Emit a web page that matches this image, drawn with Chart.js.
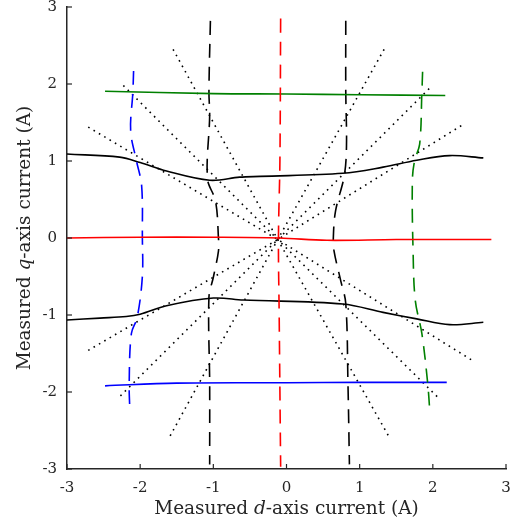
<!DOCTYPE html>
<html>
<head>
<meta charset="utf-8">
<script src="https://cdn.jsdelivr.net/npm/chart.js@4"></script>
<style>body{margin:0;background:#fff}</style>
</head>
<body>
<canvas id="graph" width="514" height="529"></canvas>
<script>
// ticks shown on both axes
const tickValues = [-3, -2, -1, 0, 1, 2, 3];

// solid curves
const redSolidX = [-3, -2, -1, -0.1, 0.55, 1.5, 2.8];
const redSolidY = [0.0, 0.01, 0.01, 0.0, -0.03, -0.02, -0.02];
const greenSolidX = [-2.48, -1, 0, 1, 2.17];
const greenSolidY = [1.905, 1.875, 1.87, 1.86, 1.85];
const blueSolidX = [-2.48, -1.5, 0, 1, 2.19];
const blueSolidY = [-1.92, -1.885, -1.88, -1.875, -1.875];
const blackUpperX = [-3, -2.28, -2.0, -1.64, -1.05, -0.64, -0.36, 0.77, 1.32, 1.78, 2.23, 2.69];
const blackUpperY = [1.09, 1.05, 0.98, 0.87, 0.75, 0.79, 0.80, 0.84, 0.92, 1.01, 1.07, 1.04];
const blackLowerX = [-3, -2.55, -2.19, -2.0, -1.64, -1.0, -0.59, 0.77, 1.32, 1.78, 2.23, 2.69];
const blackLowerY = [-1.065, -1.04, -1.02, -0.99, -0.88, -0.78, -0.805, -0.857, -0.966, -1.05, -1.125, -1.095];

// dashed curves
const redDashX = [-0.08, -0.09, -0.11, -0.10, -0.08];
const redDashY = [2.85, 1.0, 0.0, -1.0, -2.97];
const greenDashX = [1.86, 1.85, 1.82, 1.75, 1.72, 1.73, 1.76, 1.85, 1.93, 1.96];
const greenDashY = [2.16, 1.88, 1.22, 1.0, 0.74, -0.17, -0.81, -1.24, -1.89, -2.27];
const blueDashX = [-2.09, -2.10, -2.13, -2.05, -1.98, -1.97, -1.97, -2.04, -2.12, -2.15, -2.14];
const blueDashY = [2.17, 1.89, 1.39, 1.0, 0.68, 0.0, -0.5, -1.03, -1.24, -1.89, -2.27];
const blackDashLX = [-1.04, -1.06, -1.05, -1.08, -0.97, -0.93, -0.93, -1.0, -1.06, -1.05, -1.05];
const blackDashLY = [2.82, 1.9, 1.59, 0.77, 0.48, 0.0, -0.17, -0.51, -0.77, -1.9, -2.94];
const blackDashRX = [0.81, 0.81, 0.82, 0.79, 0.67, 0.64, 0.65, 0.74, 0.81, 0.84, 0.86];
const blackDashRY = [2.82, 1.9, 1.2, 0.81, 0.35, 0.0, -0.17, -0.55, -0.85, -1.89, -2.94];

// dotted rays through the centre
const rayCenter = [-0.12, -0.02];
const rayAX = [-1.55, -2.23, -2.71, -1.59, -2.27, -2.71];
const rayAY = [2.45, 1.98, 1.44, -2.57, -2.05, -1.46];
const rayBX = [1.40, 2.07, 2.54, 1.34, 1.96, 2.39];
const rayBY = [-2.58, -2.07, -1.59, 2.46, 1.95, 1.46];

const textColor = '#262626';
const serif = "'DejaVu Serif', serif";

const pts = (xs, ys) => xs.map((x, i) => ({ x: x, y: ys[i] }));

function solid(xs, ys, color) {
    return { data: pts(xs, ys), borderColor: color, borderWidth: 1.6, tension: 0.35 };
}
function dashed(xs, ys, color) {
    return { data: pts(xs, ys), borderColor: color, borderWidth: 1.6, tension: 0.35, borderDash: [14, 9] };
}

const datasets = [
    solid(redSolidX, redSolidY, '#ff0000'),
    dashed(redDashX, redDashY, '#ff0000'),
    solid(greenSolidX, greenSolidY, '#008000'),
    dashed(greenDashX, greenDashY, '#008000'),
    solid(blueSolidX, blueSolidY, '#0000ff'),
    dashed(blueDashX, blueDashY, '#0000ff'),
    solid(blackUpperX, blackUpperY, '#000000'),
    solid(blackLowerX, blackLowerY, '#000000'),
    dashed(blackDashLX, blackDashLY, '#000000'),
    dashed(blackDashRX, blackDashRY, '#000000')
];
rayAX.forEach((x, i) => {
    datasets.push({
        data: [{ x: x, y: rayAY[i] }, { x: rayCenter[0], y: rayCenter[1] }, { x: rayBX[i], y: rayBY[i] }],
        borderColor: '#000000',
        borderWidth: 1.6,
        borderDash: [1.6, 4.6],
        tension: 0
    });
});

function drawMixed(ctx, parts, cx, cy, rot) {
    ctx.save();
    ctx.translate(cx, cy);
    ctx.rotate(rot);
    ctx.fillStyle = textColor;
    ctx.textBaseline = 'alphabetic';
    ctx.textAlign = 'left';
    let total = 0;
    parts.forEach(p => { ctx.font = (p[1] ? 'italic ' : '') + '18.5px ' + serif; total += ctx.measureText(p[0]).width; });
    let x = -total / 2;
    parts.forEach(p => {
        ctx.font = (p[1] ? 'italic ' : '') + '18.5px ' + serif;
        ctx.fillText(p[0], x, 0);
        x += ctx.measureText(p[0]).width;
    });
    ctx.restore();
}

const axisExtras = {
    id: 'axisExtras',
    afterDraw(chart) {
        const ctx = chart.ctx;
        const a = chart.chartArea;
        const xs = chart.scales.x, ys = chart.scales.y;
        // inward tick marks
        ctx.save();
        ctx.strokeStyle = textColor;
        ctx.lineWidth = 1.2;
        tickValues.forEach(v => {
            const px = xs.getPixelForValue(v);
            ctx.beginPath(); ctx.moveTo(px, a.bottom); ctx.lineTo(px, a.bottom - 5); ctx.stroke();
            const py = ys.getPixelForValue(v);
            ctx.beginPath(); ctx.moveTo(a.left, py); ctx.lineTo(a.left + 5, py); ctx.stroke();
        });
        ctx.restore();
        drawMixed(ctx, [['Measured ', false], ['d', true], ['-axis current (A)', false]], (a.left + a.right) / 2, 514, 0);
        drawMixed(ctx, [['Measured ', false], ['q', true], ['-axis current (A)', false]], 30, (a.top + a.bottom) / 2, -Math.PI / 2);
    }
};

function noOverflow(s) {
    s.paddingTop = 0; s.paddingBottom = 0; s.paddingLeft = 0; s.paddingRight = 0;
}

const config = {
    type: 'scatter',
    data: { datasets: datasets },
    options: {
        responsive: false,
        animation: false,
        showLine: true,
        elements: { point: { radius: 0, hoverRadius: 0 } },
        layout: { padding: { top: 7, right: 8, left: 0, bottom: 0 } },
        scales: {
            x: {
                type: 'linear', min: -3, max: 3,
                afterFit: s => { s.height = 60; noOverflow(s); },
                afterBuildTicks: s => { s.ticks = tickValues.map(v => ({ value: v })); },
                grid: { display: true, drawOnChartArea: false, drawTicks: false },
                border: { display: true, color: textColor, width: 1.5 },
                ticks: { color: textColor, padding: 10, font: { family: serif, size: 15 }, maxRotation: 0 }
            },
            y: {
                type: 'linear', min: -3, max: 3,
                afterFit: s => { s.width = 67; noOverflow(s); },
                afterBuildTicks: s => { s.ticks = tickValues.map(v => ({ value: v })); },
                grid: { display: true, drawOnChartArea: false, drawTicks: false },
                border: { display: true, color: textColor, width: 1.5 },
                ticks: { color: textColor, padding: 10, font: { family: serif, size: 15 } }
            }
        },
        plugins: {
            legend: { display: false },
            tooltip: { enabled: false }
        }
    },
    plugins: [axisExtras]
};

const myChart = new Chart(document.getElementById('graph'), config);
</script>
</body>
</html>
